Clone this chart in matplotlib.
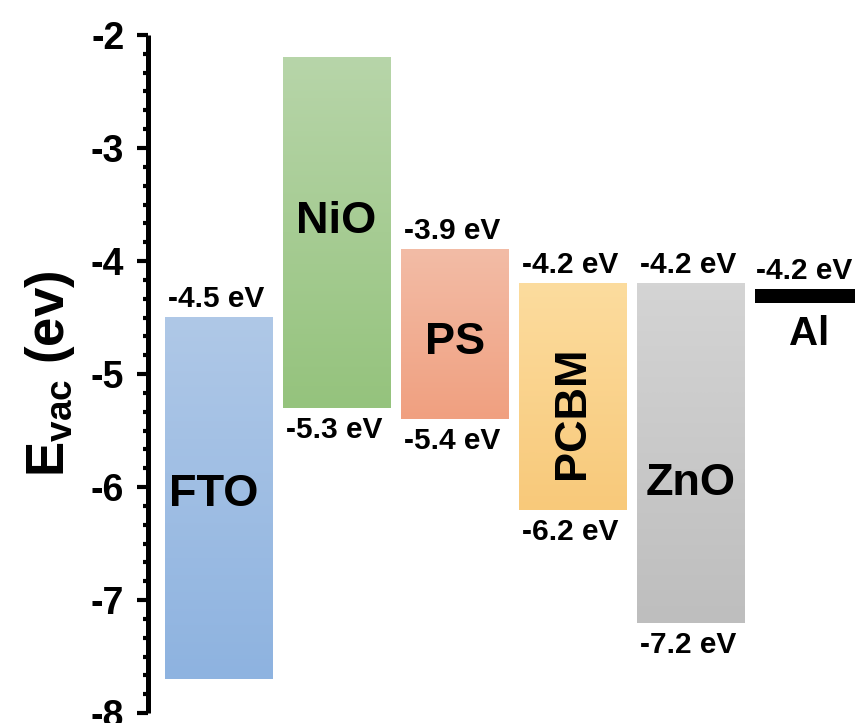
import matplotlib.pyplot as plt
import numpy as np
from matplotlib.colors import LinearSegmentedColormap
from matplotlib.ticker import MultipleLocator

plt.rcParams['font.family'] = 'Liberation Sans'
plt.rcParams['font.weight'] = 'bold'
plt.rcParams['axes.unicode_minus'] = False
plt.rcParams['mathtext.fontset'] = 'custom'
plt.rcParams['mathtext.rm'] = 'Liberation Sans:bold'
plt.rcParams['mathtext.it'] = 'Liberation Sans:bold'
plt.rcParams['mathtext.bf'] = 'Liberation Sans:bold'

# energy levels (eV vs vacuum)
materiales = ['FTO', 'NiO', 'PS', 'PCBM', 'ZnO']
nivel_sup = [-4.5, -2.2, -3.9, -4.2, -4.2]
nivel_inf = [-7.7, -5.3, -5.4, -6.2, -7.2]
etiqueta_sup = ['-4.5 eV', None, '-3.9 eV', '-4.2 eV', '-4.2 eV']
etiqueta_inf = [None, '-5.3 eV', '-5.4 eV', '-6.2 eV', '-7.2 eV']
colores_sup = ['#afc8e7', '#b7d5a9', '#f3bca6', '#fcdc9e', '#d4d4d4']
colores_inf = ['#8eb3e0', '#95c37d', '#f0a080', '#f8c97a', '#bebebe']
ticks_y = [-8, -7, -6, -5, -4, -3, -2]

al_nivel = -4.2
al_espesor = 0.12

ancho = 0.907

fig = plt.figure(figsize=(8.55, 7.23), dpi=100)
ax = fig.add_axes([0.173, 0.0138, 0.827, 0.9378])

for i, mat in enumerate(materiales):
    sup = nivel_sup[i]
    inf = nivel_inf[i]
    cmap = LinearSegmentedColormap.from_list(mat, [colores_sup[i], colores_inf[i]])
    grad = np.linspace(0, 1, 100).reshape(-1, 1)
    ax.imshow(grad, cmap=cmap, aspect='auto', interpolation='bicubic',
              extent=(i - ancho / 2, i + ancho / 2, inf, sup), zorder=2)
    if etiqueta_sup[i]:
        ax.text(i - 0.02, sup + 0.04, etiqueta_sup[i], ha='center', va='bottom',
                fontsize=21.5, fontweight='bold')
    if etiqueta_inf[i]:
        ax.text(i - 0.02, inf - 0.07, etiqueta_inf[i], ha='center', va='top',
                fontsize=21.5, fontweight='bold')

# material names inside the boxes
nombres = dict(ha='center', va='center', fontsize=32.5, fontweight='bold')
ax.text(-0.04, -6.07, 'FTO', **nombres)
ax.text(1, -3.65, 'NiO', **nombres)
ax.text(2, -4.72, 'PS', **nombres)
ax.text(3, -5.34, 'PCBM', rotation=90, **nombres)
ax.text(4, -5.97, 'ZnO', **nombres)

# Al electrode
ax.bar(5, -al_espesor, bottom=al_nivel - 0.05, width=ancho, color='black', zorder=2)
ax.text(5.365, al_nivel - 0.01, '-4.2 eV', ha='right', va='bottom', fontsize=21.5, fontweight='bold')
ax.text(5, -4.65, 'Al', ha='center', va='center', fontsize=29, fontweight='bold')

ax.set_xlim(-0.597, 5.39)
ax.set_ylim(-8, -2)

for lado in ['top', 'right', 'bottom']:
    ax.spines[lado].set_visible(False)
ax.spines['left'].set_linewidth(3.6)
ax.spines['left'].set_capstyle('butt')
ax.set_xticks([])

ax.set_yticks(ticks_y)
ax.set_yticklabels([str(t) for t in ticks_y], fontsize=27, fontweight='bold')
ax.yaxis.set_minor_locator(MultipleLocator(1 / 6))
ax.tick_params(axis='y', which='major', direction='out', length=8, width=3, pad=9)
ax.tick_params(axis='y', which='minor', direction='out', length=3.5, width=3)

ax.set_ylabel(r'E$_{\mathrm{vac}}$ (ev)', fontsize=38, fontweight='bold', labelpad=10)

fig.savefig('out.png', dpi=100)
